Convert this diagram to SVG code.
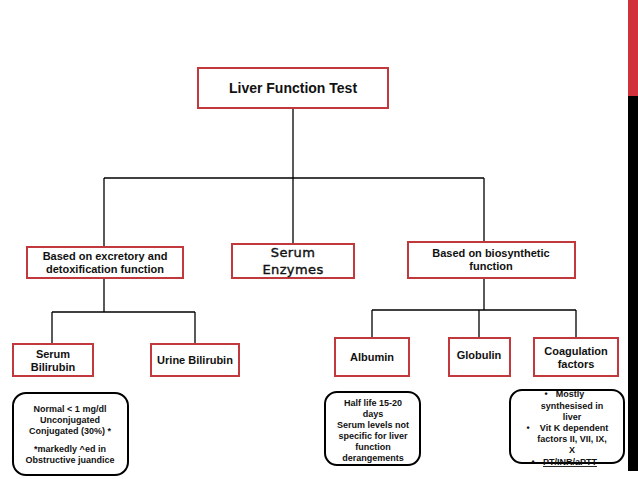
<svg xmlns="http://www.w3.org/2000/svg" width="638" height="479" viewBox="0 0 638 479">
<style>
.box{fill:#fff;stroke:#c1393d;stroke-width:2}
.note{fill:#fff;stroke:#000;stroke-width:2}
.t{font-family:"Liberation Sans",Arial,sans-serif;font-weight:bold;font-size:11px;fill:#111;text-anchor:middle}
.n{font-family:"Liberation Sans",Arial,sans-serif;font-weight:bold;font-size:9px;fill:#111;text-anchor:middle}
.e{font-family:"DejaVu Sans",Verdana,sans-serif;font-size:13px;fill:#111;stroke:#111;stroke-width:0.4;text-anchor:middle;letter-spacing:0.4px}
#conn line{stroke:#000;stroke-width:1.3}
</style>
<rect width="638" height="479" fill="#fff"/>
<rect x="628" y="0" width="10" height="96" fill="#d1313a"/>
<rect x="628" y="96" width="10" height="375" fill="#000"/>
<g id="conn">
<line x1="293" y1="108" x2="293" y2="178"/>
<line x1="104" y1="178" x2="484" y2="178"/>
<line x1="104" y1="178" x2="104" y2="247"/>
<line x1="293" y1="178" x2="293" y2="244"/>
<line x1="484" y1="178" x2="484" y2="242"/>
<line x1="104" y1="278" x2="104" y2="312"/>
<line x1="52" y1="312" x2="195" y2="312"/>
<line x1="52" y1="312" x2="52" y2="344"/>
<line x1="195" y1="312" x2="195" y2="344"/>
<line x1="484" y1="278" x2="484" y2="310"/>
<line x1="372" y1="310" x2="576" y2="310"/>
<line x1="372" y1="310" x2="372" y2="338"/>
<line x1="479" y1="310" x2="479" y2="338"/>
<line x1="576" y1="310" x2="576" y2="338"/>
</g>
<g id="lft"><rect class="box" x="198" y="68" width="190" height="40"/><text class="t" x="293" y="93" style="font-size:14px">Liver Function Test</text></g>
<g id="excretory"><rect class="box" x="27" y="247" width="156" height="31"/><text class="t" x="105" y="260">Based on excretory and</text><text class="t" x="105" y="273">detoxification function</text></g>
<g id="enzymes"><rect class="box" x="232" y="244" width="122" height="34"/><text class="e" x="293" y="257">Serum</text><text class="e" x="293" y="274">Enzymes</text></g>
<g id="biosynthetic"><rect class="box" x="408" y="242" width="167" height="36"/><text class="t" x="491" y="257">Based on biosynthetic</text><text class="t" x="491" y="270">function</text></g>
<g id="serumbil"><rect class="box" x="13" y="344" width="80" height="32"/><text class="t" x="53" y="358">Serum</text><text class="t" x="53" y="371">Bilirubin</text></g>
<g id="urinebil"><rect class="box" x="151" y="344" width="88" height="32"/><text class="t" x="195" y="364">Urine Bilirubin</text></g>
<g id="albumin"><rect class="box" x="335" y="338" width="74" height="38"/><text class="t" x="372" y="361">Albumin</text></g>
<g id="globulin"><rect class="box" x="449" y="338" width="61" height="38"/><text class="t" x="479" y="359">Globulin</text></g>
<g id="coag"><rect class="box" x="534" y="338" width="84" height="38"/><text class="t" x="576" y="355">Coagulation</text><text class="t" x="576" y="368">factors</text></g>
<g id="note1"><rect class="note" x="13" y="393" width="115" height="82" rx="13"/>
<text class="n" x="70" y="412">Normal &lt; 1 mg/dl</text>
<text class="n" x="70" y="423">Unconjugated</text>
<text class="n" x="70" y="434">Conjugated (30%) *</text>
<text class="n" x="70" y="452">*markedly ^ed in</text>
<text class="n" x="70" y="463">Obstructive juandice</text></g>
<g id="note2"><rect class="note" x="325" y="392" width="95" height="73" rx="12"/>
<text class="n" x="373" y="406">Half life 15-20</text>
<text class="n" x="373" y="417">days</text>
<text class="n" x="373" y="428">Serum levels not</text>
<text class="n" x="373" y="439">specific for liver</text>
<text class="n" x="373" y="450">function</text>
<text class="n" x="373" y="461">derangements</text></g>
<g id="note3"><rect class="note" x="510" y="390" width="114" height="73" rx="12"/>
<text class="n" x="567" y="397"><tspan x="546">•</tspan><tspan x="570">Mostly</tspan></text>
<text class="n" x="572" y="409">synthesised in</text>
<text class="n" x="572" y="420">liver</text>
<text class="n" x="567" y="431"><tspan x="528">•</tspan><tspan x="574">Vit K dependent</tspan></text>
<text class="n" x="572" y="442">factors II, VII, IX,</text>
<text class="n" x="572" y="453">X</text>
<text class="n" x="567" y="465"><tspan x="533">•</tspan><tspan x="570" text-decoration="underline">PT/INR/aPTT</tspan></text></g>
</svg>
